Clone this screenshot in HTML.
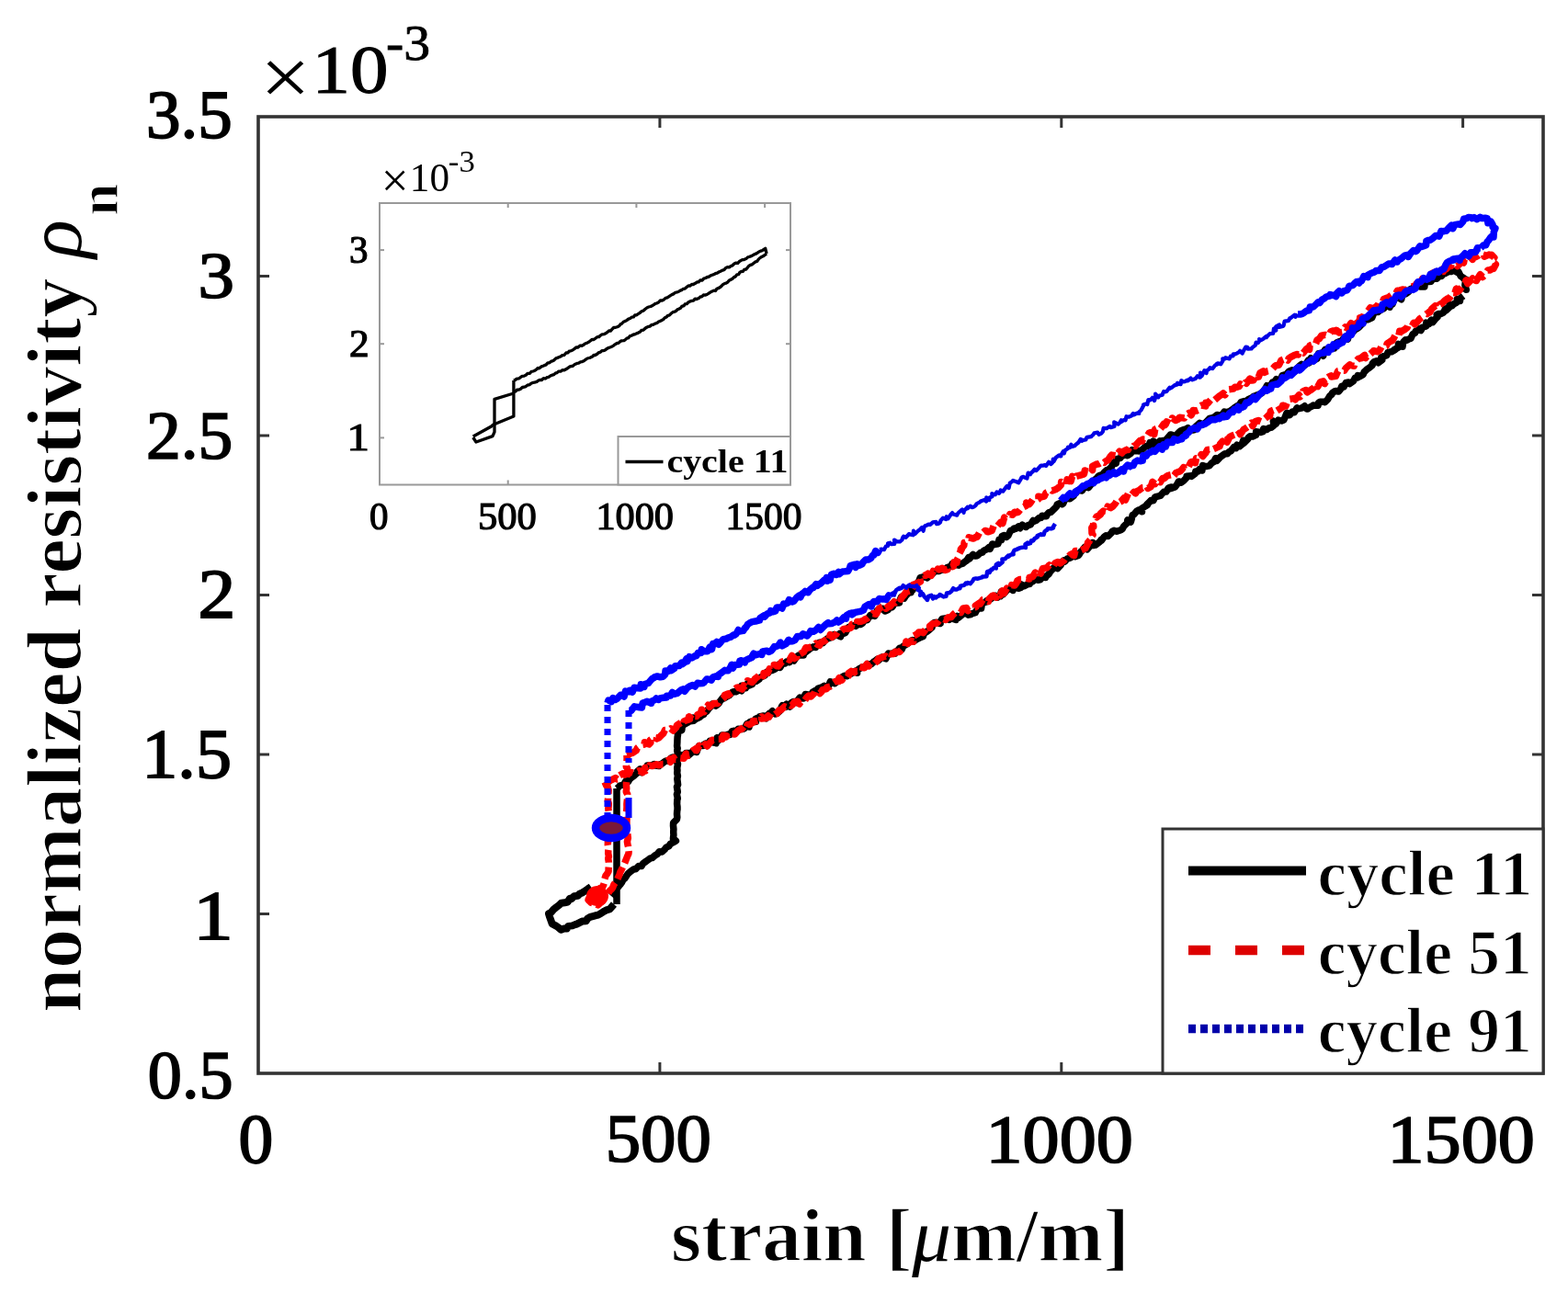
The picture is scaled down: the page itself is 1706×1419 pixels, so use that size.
<!DOCTYPE html>
<html><head><meta charset="utf-8"><title>normalized resistivity vs strain</title>
<style>html,body{margin:0;padding:0;background:#fff;}svg{display:block;}</style></head>
<body>
<svg width="1706" height="1419" viewBox="0 0 1706 1419">
<rect width="1706" height="1419" fill="#ffffff"/>
<path d="M643.0 965.0 L639.9 967.1 L637.6 968.9 L634.0 971.2 L630.7 972.6 L628.5 974.8 L624.8 975.2 L622.0 978.0 L620.0 977.8 L617.6 981.5 L614.2 982.3 L610.7 982.8 L608.4 984.9 L605.1 987.4 L602.0 989.9 L599.7 992.8 L597.0 994.3 L598.0 997.7 L598.9 1000.1 L600.7 1005.2 L603.0 1006.5 L604.7 1007.4 L607.2 1009.0 L610.4 1011.8 L613.5 1010.6 L616.7 1010.6 L618.3 1007.9 L622.6 1007.4 L625.7 1006.1 L627.4 1005.6 L631.4 1003.6 L633.4 1002.6 L637.6 1002.3 L639.2 999.7 L642.1 997.9 L646.0 996.9 L648.5 996.2 L650.9 995.6 L653.7 994.0 L656.6 992.1 L659.6 990.4 L663.3 989.4 L665.1 987.3 L668.0 984.0" fill="none" stroke="#000000" stroke-width="8" stroke-linejoin="round" />
<path d="M671.0 984.0 L671.0 858.0" fill="none" stroke="#000000" stroke-width="7.5" stroke-linejoin="round" />
<path d="M665.0 975.0 L666.9 972.8 L669.0 969.3 L670.1 967.2 L672.3 965.6 L674.7 962.7 L676.5 960.3 L677.9 957.4 L679.8 955.8 L681.6 953.1 L683.5 950.4 L686.5 948.1 L689.7 945.7 L691.5 945.8 L694.7 942.5 L697.9 942.6 L699.5 939.8 L702.1 937.9 L705.1 935.8 L707.7 933.9 L709.6 933.6 L712.4 931.1 L715.1 929.5 L717.4 926.8 L720.3 926.9 L723.1 924.5 L724.8 922.1 L727.7 920.8 L729.5 918.1 L732.3 916.9 L735.4 915.0 L732.4 912.6 L732.9 908.6 L732.7 905.1 L732.9 902.3 L732.5 898.5 L732.6 895.4 L736.4 891.6 L736.8 889.3 L736.5 885.9 L736.7 882.6 L737.0 880.9 L737.0 877.9 L736.6 874.8 L736.8 870.4 L737.3 868.8 L736.4 864.5 L737.3 861.7 L736.7 858.0 L736.4 856.2 L737.6 854.0 L737.0 849.0 L736.8 847.6 L737.4 844.3 L736.7 841.1 L737.0 838.3 L736.7 835.9 L737.5 831.3 L736.7 829.7 L736.7 826.9 L737.0 823.4 L737.2 819.4 L736.7 816.5 L737.2 814.4 L736.6 811.8 L736.9 807.5 L736.9 806.0 L737.1 802.2 L737.5 799.9 L737.0 796.0" fill="none" stroke="#000000" stroke-width="7.5" stroke-linejoin="round" />
<path d="M737.0 796.0 L738.3 795.4 L741.8 794.7 L742.3 790.0 L744.3 788.4 L748.2 786.3 L749.6 785.2 L751.0 784.8 L754.8 784.2 L754.3 780.9 L756.8 782.5 L761.0 780.6 L763.2 778.7 L765.8 777.4 L765.9 776.2 L768.8 774.1 L771.3 770.9 L772.9 769.3 L775.0 766.1 L778.8 768.1 L781.5 766.0 L782.4 765.0 L783.2 763.3 L786.4 759.4 L787.8 759.9 L790.2 758.3 L793.4 756.7 L794.1 755.9 L796.7 753.3 L798.7 752.6 L800.5 752.8 L805.5 750.2 L806.9 751.7 L807.0 746.3 L811.5 748.6 L813.2 743.8 L814.7 746.2 L818.4 744.5 L818.4 743.5 L821.1 741.5 L822.6 741.5 L826.2 738.9 L827.2 737.1 L830.5 735.7 L832.0 735.1 L834.1 731.5 L835.8 732.3 L837.8 728.6 L839.9 729.5 L843.7 727.8 L844.3 726.0 L847.5 723.0 L848.7 726.5 L851.4 721.6 L854.1 722.0 L855.8 720.1 L858.9 720.7 L860.1 716.9 L863.8 719.0 L866.2 715.2 L868.9 713.1 L869.2 712.9 L874.2 712.9 L874.4 711.4 L878.5 708.0 L879.9 707.2 L881.1 705.7 L883.3 704.8 L885.0 703.8 L887.4 704.5 L891.3 699.3 L894.1 699.1 L895.4 699.7 L897.2 697.1 L899.8 695.1 L903.4 693.9 L905.5 693.3 L906.1 693.0 L907.5 690.6 L910.8 691.1 L914.7 692.8 L914.3 689.3 L916.8 689.6 L919.7 688.7 L922.7 683.3 L923.3 682.6 L928.3 680.8 L929.4 680.5 L931.2 681.4 L933.1 679.6 L936.8 679.4 L938.6 678.0 L940.7 674.8 L943.5 674.8 L946.7 669.7 L946.6 670.5 L951.0 669.2 L951.8 670.2 L954.3 664.5 L956.0 663.0 L960.5 662.2 L962.9 665.0 L966.3 663.5 L966.9 661.4 L970.7 660.7 L971.4 659.7 L973.3 656.2 L978.5 655.9 L978.1 655.7 L980.4 649.8 L980.9 649.3 L983.7 651.1 L985.2 648.8 L988.9 644.8 L991.1 644.8 L991.4 640.4 L993.1 641.9 L995.1 636.4 L996.4 636.1 L997.6 634.8 L998.9 634.3 L1001.2 628.7 L1004.3 628.0 L1007.5 628.1 L1008.7 628.9 L1010.1 627.5 L1013.8 624.9 L1017.1 621.8 L1019.1 621.5 L1021.4 620.7 L1021.3 621.5 L1026.3 619.3 L1027.3 620.2 L1028.9 618.9 L1030.5 617.5 L1035.1 616.0 L1035.8 613.6 L1039.6 614.6 L1042.7 615.1 L1042.6 614.8 L1047.6 613.1 L1049.7 611.3 L1051.8 610.0 L1053.8 606.7 L1054.8 608.0 L1058.6 603.4 L1061.2 605.1 L1063.2 604.8 L1066.8 601.5 L1069.0 601.0 L1070.4 599.1 L1073.6 597.8 L1075.8 595.8 L1077.1 597.3 L1079.2 593.0 L1079.5 592.1 L1082.7 592.4 L1086.0 591.8 L1087.0 587.3 L1089.5 587.6 L1090.2 583.4 L1092.5 582.5 L1095.1 584.4 L1097.0 582.7 L1099.4 577.5 L1103.8 575.8 L1103.4 574.9 L1105.5 575.2 L1108.2 572.9 L1109.9 574.7 L1112.3 571.2 L1116.2 573.5 L1118.8 571.5 L1121.2 570.9 L1124.0 566.5 L1123.8 567.8 L1127.5 566.3 L1130.6 563.4 L1132.6 563.6 L1133.8 561.2 L1135.5 561.6 L1138.4 561.8 L1139.6 559.4 L1141.1 557.7 L1143.4 557.3 L1148.0 552.8 L1149.6 551.2 L1150.1 549.1 L1152.6 547.7 L1155.5 548.7 L1156.7 548.0 L1158.2 544.6 L1160.7 541.5 L1164.4 540.5 L1164.0 542.8 L1168.3 539.5 L1169.1 536.5 L1169.9 537.1 L1172.7 533.7 L1176.9 531.6 L1177.3 534.0 L1180.5 529.2 L1182.6 530.2 L1184.3 530.7 L1186.9 527.5 L1188.7 525.3 L1189.9 525.3 L1192.0 521.4 L1192.1 521.8 L1194.9 518.3 L1196.7 517.3 L1198.9 517.1 L1201.4 514.0 L1203.9 511.7 L1205.0 511.6 L1207.5 509.9 L1209.9 507.3 L1210.7 503.7 L1211.6 503.3 L1214.3 504.1 L1214.8 499.6 L1218.9 498.5 L1221.1 495.2 L1223.2 495.6 L1225.0 492.7 L1226.9 495.6 L1230.3 493.3 L1231.7 489.6 L1234.9 490.7 L1237.4 490.6 L1238.8 490.9 L1240.3 490.4 L1242.6 489.4 L1246.5 485.7 L1250.0 485.1 L1251.0 481.7 L1254.3 483.8 L1255.0 480.1 L1258.0 483.4 L1261.8 480.0 L1261.7 481.0 L1264.6 479.5 L1267.9 479.8 L1269.3 477.9 L1273.5 473.0 L1275.4 473.5 L1278.2 476.0 L1280.6 472.6 L1282.8 470.4 L1284.8 468.7 L1288.0 467.5 L1289.8 467.2 L1292.4 465.6 L1293.1 467.6 L1297.7 468.0 L1299.9 467.5 L1300.6 464.5 L1304.5 461.0 L1305.3 460.3 L1308.8 462.0 L1311.8 459.8 L1312.1 459.5 L1315.8 455.5 L1318.5 454.8 L1319.9 454.7 L1323.6 451.9 L1325.0 451.4 L1328.1 453.3 L1329.2 451.7 L1332.1 448.0 L1333.9 448.6 L1337.9 447.8 L1337.7 447.7 L1341.9 444.7 L1343.2 443.7 L1346.7 441.4 L1347.1 443.2 L1350.2 437.6 L1353.8 436.5 L1354.3 437.7 L1357.3 437.8 L1358.0 434.7 L1362.3 432.8 L1363.9 431.4 L1366.1 432.6 L1367.0 430.1 L1369.2 429.5 L1372.6 427.9 L1375.1 425.2 L1377.5 421.5 L1378.4 419.7 L1380.6 421.5 L1381.8 420.8 L1384.4 416.2 L1385.8 416.8 L1388.5 412.7 L1390.4 416.1 L1393.1 413.2 L1395.1 408.7 L1397.8 408.0 L1398.4 408.7 L1402.3 404.2 L1405.3 402.9 L1405.0 403.1 L1409.1 404.0 L1411.1 401.1 L1413.8 398.3 L1416.1 396.5 L1415.7 398.9 L1419.8 397.2 L1420.3 396.9 L1423.3 392.2 L1424.2 395.0 L1426.2 389.7 L1429.3 392.0 L1433.0 390.4 L1434.5 384.8 L1437.0 384.5 L1439.8 387.2 L1439.2 384.7 L1441.9 380.2 L1446.0 380.7 L1446.4 380.0 L1447.8 378.0 L1451.8 379.0 L1452.3 377.9 L1454.4 373.0 L1457.3 371.6 L1458.7 372.8 L1461.6 368.6 L1463.9 366.5 L1466.4 369.1 L1467.6 364.4 L1469.3 362.4 L1471.3 359.6 L1472.9 360.5 L1475.4 355.5 L1476.3 357.7 L1478.8 355.9 L1481.6 353.0 L1482.7 351.0 L1484.8 348.9 L1488.4 345.0 L1488.3 347.7 L1492.7 345.9 L1494.7 340.8 L1496.4 339.5 L1499.0 339.6 L1500.1 338.8 L1501.4 337.7 L1505.7 335.7 L1506.5 333.9 L1507.9 332.1 L1512.1 334.2 L1512.9 329.3 L1515.0 330.9 L1516.9 326.0 L1519.3 324.1 L1520.9 323.5 L1524.7 325.8 L1525.7 321.1 L1528.9 318.3 L1529.5 319.8 L1532.9 317.2 L1534.9 314.3 L1536.7 313.9 L1538.8 312.1 L1542.8 310.6 L1543.8 310.2 L1545.3 312.1 L1549.9 311.9 L1550.2 308.5 L1552.7 304.9 L1554.9 306.5 L1557.0 306.2 L1559.4 302.4 L1563.0 302.6 L1563.2 303.2 L1566.1 300.4 L1568.3 300.5 L1571.3 297.1 L1572.4 297.6 L1576.1 295.5 L1578.8 295.5 L1579.9 294.8 L1582.1 294.4 L1586.7 296.9 L1586.7 295.5 L1589.3 300.6 L1592.1 302.3 L1591.9 302.6 L1595.4 304.4 L1594.5 305.3 L1593.9 310.2 L1595.3 315.2 L1594.8 314.5 L1594.0 318.0" fill="none" stroke="#000000" stroke-width="7.5" stroke-linejoin="round" />
<path d="M1592.0 322.0 L1588.8 324.6 L1588.5 327.4 L1585.4 325.4 L1584.9 329.1 L1581.6 330.8 L1579.9 332.8 L1577.0 331.5 L1577.5 333.8 L1573.6 337.7 L1572.7 335.8 L1570.5 340.1 L1567.4 341.6 L1565.3 341.5 L1563.2 342.4 L1564.0 345.0 L1562.1 346.7 L1558.9 350.6 L1557.2 348.2 L1554.9 352.5 L1551.7 351.2 L1551.9 355.0 L1547.8 356.2 L1545.9 359.6 L1544.8 357.5 L1543.8 359.0 L1540.2 360.3 L1539.6 362.3 L1537.0 363.8 L1534.9 368.4 L1533.1 368.8 L1530.9 370.2 L1529.2 369.8 L1526.8 372.1 L1526.0 377.2 L1521.4 374.5 L1521.4 378.2 L1517.2 380.4 L1518.0 380.4 L1514.1 382.7 L1513.9 382.6 L1509.9 383.6 L1508.9 386.6 L1505.7 387.6 L1502.9 388.7 L1503.9 391.6 L1499.6 394.9 L1497.8 392.8 L1494.8 393.8 L1493.2 395.7 L1493.3 397.3 L1489.3 400.6 L1489.3 400.4 L1486.8 402.3 L1484.1 405.0 L1483.2 407.4 L1479.8 409.4 L1477.2 408.6 L1477.0 411.0 L1474.3 411.3 L1472.7 414.4 L1468.5 417.6 L1467.1 416.1 L1464.4 416.4 L1462.1 421.0 L1459.8 420.3 L1458.7 423.3 L1456.4 426.1 L1453.9 425.5 L1452.3 425.8 L1449.6 427.4 L1449.1 429.0 L1446.8 430.9 L1444.6 434.7 L1441.6 437.7 L1440.5 437.3 L1436.2 437.3 L1434.4 438.4 L1434.1 441.2 L1428.9 441.1 L1429.2 441.1 L1424.2 443.6 L1422.8 445.0 L1421.7 445.0 L1419.5 441.8 L1416.6 443.8 L1412.1 445.0 L1411.1 443.9 L1408.3 448.7 L1406.0 448.1 L1403.2 451.8 L1400.9 451.6 L1400.0 449.4 L1399.0 452.0 L1396.8 457.0 L1394.4 457.9 L1390.7 457.1 L1388.4 461.0 L1385.3 458.2 L1386.0 463.0 L1383.1 465.2 L1380.4 465.9 L1378.0 467.6 L1374.7 466.5 L1374.2 469.7 L1371.6 470.5 L1371.1 470.4 L1366.6 469.8 L1366.5 473.4 L1362.9 475.0 L1359.9 474.8 L1358.1 476.3 L1357.9 477.6 L1353.4 482.2 L1352.7 479.2 L1351.0 483.9 L1348.7 485.7 L1345.9 484.2 L1344.8 487.7 L1342.5 486.7 L1339.3 490.7 L1337.2 491.6 L1335.4 493.7 L1332.8 493.7 L1332.2 494.1 L1328.0 497.1 L1325.8 499.6 L1324.1 501.2 L1322.7 498.6 L1320.5 502.7 L1318.3 503.8 L1315.8 506.9 L1313.1 507.4 L1310.4 507.2 L1308.4 506.6 L1307.9 512.0 L1304.9 510.7 L1303.3 513.1 L1300.8 513.1 L1300.2 515.5 L1296.5 518.2 L1296.4 517.6 L1291.2 518.3 L1291.8 518.9 L1287.5 523.5 L1285.1 525.1 L1283.3 524.1 L1282.3 524.0 L1280.7 527.0 L1278.4 530.0 L1274.1 531.6 L1274.2 529.9 L1271.3 531.0 L1268.9 535.1 L1266.2 535.3 L1263.3 538.3 L1262.6 539.4 L1258.7 540.3 L1256.6 541.1 L1254.8 544.8 L1252.3 544.4 L1251.2 545.7 L1247.8 549.0 L1248.5 549.3 L1246.2 550.9 L1242.3 553.3 L1242.5 556.8 L1239.4 554.7 L1236.8 556.3 L1233.6 560.0 L1232.2 560.3 L1231.0 565.6 L1230.3 568.1 L1226.8 566.0 L1226.4 569.1 L1222.5 572.9 L1221.2 575.4 L1219.5 576.7 L1215.7 578.1 L1214.8 578.2 L1212.0 577.3 L1209.9 578.3 L1209.8 579.4 L1205.5 583.5 L1203.3 582.7 L1201.3 584.2 L1198.5 588.2 L1198.1 587.2 L1196.4 589.8 L1191.8 593.1 L1189.4 593.5 L1188.8 590.5 L1186.4 593.9 L1182.9 597.9 L1180.3 595.4 L1176.6 600.0 L1175.8 600.5 L1174.3 603.3 L1173.1 604.5 L1169.7 605.8 L1166.9 603.1 L1165.9 604.0 L1164.8 607.0 L1161.0 608.2 L1158.6 610.9 L1158.0 609.6 L1154.5 612.2 L1154.3 614.6 L1150.6 618.6 L1148.4 617.1 L1146.3 617.8 L1145.2 619.4 L1142.5 622.3 L1141.2 624.6 L1138.2 627.1 L1137.6 628.5 L1134.8 627.4 L1131.6 630.9 L1129.5 631.2 L1126.8 630.2 L1123.2 633.0 L1121.6 632.7 L1120.5 635.4 L1118.8 635.5 L1114.1 637.8 L1111.1 636.0 L1111.4 639.2 L1107.9 640.3 L1104.2 636.9 L1102.1 642.5 L1098.9 640.3 L1097.9 640.6 L1096.6 641.0 L1091.7 646.6 L1089.3 643.9 L1088.4 648.7 L1086.0 648.4 L1085.2 650.0 L1083.2 648.2 L1080.1 649.6 L1078.9 651.0 L1074.3 654.5 L1073.8 653.6 L1071.7 655.5 L1068.5 656.5 L1067.6 662.0 L1065.5 660.7 L1061.7 665.3 L1061.3 666.7 L1057.9 667.6 L1056.6 668.5 L1053.6 669.2 L1051.1 667.3 L1048.5 666.8 L1046.7 669.1 L1042.7 672.2 L1041.3 670.4 L1040.1 674.4 L1036.0 673.1 L1032.2 672.9 L1032.9 674.4 L1030.4 672.6 L1024.9 673.5 L1022.6 677.9 L1023.0 678.6 L1019.3 677.4 L1016.6 677.6 L1014.7 679.0 L1014.0 682.7 L1010.6 685.8 L1008.4 687.4 L1007.7 687.7 L1005.3 689.2 L1004.3 692.6 L1001.2 693.9 L998.2 695.2 L998.2 695.2 L993.8 698.0 L992.4 696.6 L991.9 696.9 L988.7 699.1 L987.2 700.5 L982.5 703.4 L981.4 706.3 L978.6 705.4 L976.4 708.3 L973.6 709.4 L973.5 711.2 L969.4 711.2 L966.7 712.3 L966.5 711.0 L963.8 716.9 L960.4 714.9 L959.4 715.1 L955.9 718.6 L954.4 717.4 L951.1 720.2 L950.9 719.8 L948.1 722.7 L944.5 723.2 L944.0 722.7 L940.8 725.7 L937.2 726.5 L935.1 727.6 L932.4 729.5 L932.6 732.3 L930.7 730.1 L928.0 731.8 L925.5 733.5 L923.3 734.2 L921.7 735.7 L918.9 735.3 L916.5 736.6 L913.2 738.7 L911.7 740.8 L908.3 743.8 L905.3 742.6 L903.3 741.8 L901.3 747.3 L898.5 747.3 L897.9 749.0 L896.5 746.5 L894.5 747.7 L889.7 749.3 L889.3 752.2 L887.0 751.5 L884.1 753.2 L883.3 755.6 L880.2 756.2 L876.2 755.5 L874.3 759.9 L871.9 759.8 L870.1 759.1 L867.9 762.1 L867.4 764.7 L863.6 763.4 L860.8 764.8 L859.4 769.2 L855.7 766.2 L854.5 769.3 L851.2 767.7 L850.5 768.8 L849.0 773.3 L845.7 776.2 L843.5 777.0 L840.4 773.7 L838.7 777.2 L837.2 776.1 L835.1 778.1 L833.6 781.8 L830.8 778.9 L826.3 780.0 L825.2 781.0 L822.0 782.2 L822.4 785.4 L817.8 784.9 L815.6 785.7 L815.0 791.0 L812.8 787.7 L809.8 792.8 L806.9 793.5 L803.4 793.3 L803.5 793.9 L799.2 797.8 L799.1 795.3 L796.6 795.7 L794.0 799.6 L791.7 799.3 L790.1 800.2 L785.5 800.0 L783.4 804.3 L780.9 806.3 L780.2 802.8 L779.1 808.7 L774.5 807.6 L772.2 806.5 L769.4 811.5 L767.6 809.1 L765.1 810.6 L765.2 811.4 L760.5 811.7 L759.8 813.1 L757.9 818.5 L753.9 817.2 L753.2 818.4 L749.4 821.8 L749.2 819.4 L746.4 819.5 L744.0 822.2 L742.0 821.4 L737.1 824.2 L735.5 826.9 L731.9 824.0 L729.7 825.1 L729.4 828.1 L724.6 827.9 L722.3 829.4 L719.9 831.2 L717.1 832.3 L716.8 833.5 L711.7 832.9 L711.5 831.6 L709.4 832.6 L704.3 832.9 L704.1 833.9 L700.4 837.6 L697.9 840.6 L696.2 837.0 L693.5 839.3 L693.0 841.2 L690.2 843.9 L687.4 845.9 L684.8 848.0 L683.8 850.4 L682.4 848.2 L680.3 850.9 L678.7 853.8 L674.2 855.0 L673.2 856.5 L671.0 858.0" fill="none" stroke="#000000" stroke-width="7.5" stroke-linejoin="round" />
<path d="M682.0 822.0 L683.3 821.7 L687.1 819.2 L688.1 819.5 L692.2 816.7 L693.4 814.0 L694.1 813.4 L698.1 810.5 L701.0 810.0 L701.4 807.7 L706.0 810.0 L707.9 808.1 L707.4 805.3 L711.1 802.8 L714.7 802.8 L714.4 803.9 L716.6 803.1 L719.8 799.8 L721.7 798.2 L723.4 794.5 L727.7 794.3 L729.7 792.8 L732.5 795.0 L734.0 793.1 L735.7 791.7 L736.5 789.2 L740.9 786.5 L743.5 788.9 L744.1 784.9 L746.5 783.8 L750.4 782.6 L749.6 779.8 L754.0 783.3 L755.5 779.4 L757.9 779.5 L759.1 777.6 L762.4 776.1 L763.4 772.2 L766.2 774.6 L768.4 771.3 L770.5 767.2 L772.0 769.3 L776.4 765.5 L778.3 765.5 L781.2 765.4 L781.9 764.2 L785.8 760.9 L787.8 759.1 L788.4 756.5 L792.1 754.8 L791.8 756.8 L796.2 753.8 L798.5 750.3 L798.9 750.2 L801.6 748.3 L802.7 747.9 L807.5 750.0 L809.2 746.0 L809.8 747.2 L812.9 744.7 L813.5 740.8 L818.2 742.5 L820.5 740.2 L821.3 738.8 L824.8 736.1 L826.0 734.6 L828.9 731.9 L830.8 735.5 L831.0 732.4 L835.1 732.4 L837.1 728.0 L838.7 730.4 L842.5 724.9 L842.3 723.4 L844.3 724.1 L846.9 725.0 L850.8 719.9 L852.7 719.8 L854.8 718.0 L856.0 716.6 L859.0 718.1 L861.7 713.4 L864.5 716.5 L867.0 714.8 L866.8 711.9 L869.3 712.3 L871.9 710.8 L874.4 709.5 L876.8 704.8 L879.3 705.0 L883.2 703.7 L884.2 703.8 L887.8 700.2 L889.0 701.2 L891.7 702.3 L892.6 699.7 L895.6 697.8 L896.4 697.9 L901.5 694.2 L901.7 696.4 L903.3 690.5 L905.4 693.3 L909.8 690.2 L911.6 686.9 L914.0 688.0 L915.8 686.5 L917.7 684.6 L918.9 684.3 L921.8 684.3 L925.8 683.1 L927.0 679.2 L929.1 679.1 L932.1 680.3 L932.7 676.4 L936.3 676.3 L939.8 675.2 L941.3 673.8 L943.7 672.9 L946.0 670.7 L946.9 670.5 L949.6 667.6 L953.5 668.2 L956.4 662.1 L956.8 662.5 L959.5 660.4 L962.4 658.9 L964.1 662.2 L967.9 658.5 L968.4 659.9 L972.7 654.8 L974.0 655.9 L977.6 652.8 L980.3 651.2 L980.1 652.1 L981.7 649.4 L983.8 647.1 L985.9 644.1 L989.9 642.7 L990.3 641.6 L991.7 637.4 L994.0 636.1 L995.3 637.8 L996.8 635.2 L1001.5 632.8 L1000.6 629.9 L1002.6 628.6 L1007.0 625.7 L1007.1 626.4 L1009.7 624.2 L1013.2 626.3 L1015.3 621.4 L1018.9 624.1 L1020.4 619.1 L1021.7 620.0 L1025.2 618.2 L1028.3 620.5 L1031.0 619.7 L1030.5 617.2 L1033.0 617.9 L1037.4 616.3 L1038.0 611.7 L1041.0 612.2 L1041.4 609.2 L1042.9 606.2 L1042.3 603.9 L1043.4 603.0 L1046.2 597.8 L1045.3 597.7 L1048.8 593.6 L1049.1 590.5 L1050.0 590.4 L1053.6 588.8 L1054.2 584.8 L1058.9 586.0 L1059.6 585.7 L1062.9 583.7 L1063.2 584.2 L1065.9 579.0 L1068.6 580.5 L1071.8 577.5 L1074.4 578.1 L1074.9 578.8 L1079.2 577.5 L1081.1 572.3 L1083.6 574.2 L1085.1 572.6 L1088.7 568.3 L1090.9 569.5 L1092.7 563.1 L1093.5 564.6 L1096.5 564.0 L1098.8 559.6 L1101.9 560.2 L1103.9 557.2 L1106.4 557.7 L1107.9 557.3 L1110.4 554.0 L1110.1 552.9 L1112.6 552.3 L1116.8 550.1 L1116.8 547.0 L1119.9 548.6 L1120.8 547.7 L1123.6 543.5 L1128.0 544.3 L1130.1 542.9 L1129.9 540.2 L1133.0 540.9 L1136.2 540.2 L1138.0 536.3 L1139.5 535.6 L1141.9 533.7 L1144.2 533.4 L1144.8 534.0 L1148.7 532.5 L1151.4 530.8 L1154.4 527.7 L1154.7 524.4 L1157.8 526.2 L1159.9 527.1 L1161.1 521.8 L1165.1 523.6 L1166.6 518.4 L1168.6 521.2 L1171.3 518.0 L1173.3 517.7 L1176.3 516.8 L1179.5 515.8 L1180.3 512.0 L1183.9 513.5 L1186.6 509.2 L1188.7 511.6 L1188.6 507.3 L1192.6 505.3 L1195.6 504.7 L1197.4 503.6 L1198.3 502.0 L1201.4 503.4 L1202.9 502.0 L1205.5 500.6 L1207.9 497.0 L1209.5 495.1 L1213.6 495.7 L1214.1 496.9 L1218.0 491.2 L1220.6 493.0 L1222.0 491.3 L1225.9 489.4 L1227.2 489.6 L1228.7 486.9 L1232.2 487.1 L1233.6 485.3 L1235.1 485.5 L1236.7 483.3 L1240.2 479.6 L1242.7 480.0 L1243.3 478.1 L1245.7 478.2 L1248.4 474.3 L1250.2 471.3 L1252.3 470.4 L1255.8 472.5 L1256.7 467.2 L1259.8 465.8 L1261.6 467.7 L1263.1 465.9 L1266.3 461.2 L1267.6 462.4 L1269.3 458.9 L1272.9 460.6 L1274.9 458.3 L1275.5 455.0 L1279.0 457.5 L1281.8 456.3 L1283.3 454.2 L1288.6 455.0 L1290.2 451.3 L1293.6 449.4 L1296.1 451.7 L1297.6 449.0 L1298.2 446.6 L1302.0 446.9 L1303.5 446.3 L1304.8 442.2 L1307.2 441.0 L1311.7 441.9 L1312.0 438.2 L1314.2 438.6 L1317.5 435.0 L1319.6 436.9 L1322.1 434.8 L1325.0 432.4 L1327.1 430.6 L1328.3 430.0 L1330.9 428.0 L1332.9 429.8 L1335.9 424.8 L1337.0 423.7 L1341.9 423.1 L1343.6 421.3 L1345.9 421.2 L1348.4 420.4 L1349.6 417.9 L1352.5 419.5 L1355.0 416.4 L1356.1 417.2 L1359.9 412.1 L1361.6 414.1 L1363.7 413.8 L1366.6 408.8 L1369.1 408.0 L1369.4 410.1 L1371.0 405.8 L1374.6 403.9 L1375.7 405.3 L1379.0 403.8 L1381.7 403.2 L1384.2 401.7 L1386.8 398.8 L1388.2 397.7 L1391.3 397.3 L1392.0 396.1 L1393.8 392.2 L1396.4 391.1 L1397.5 389.6 L1401.2 392.0 L1402.2 390.1 L1404.7 388.3 L1407.6 386.8 L1411.2 385.4 L1412.5 385.9 L1413.9 382.7 L1418.0 384.1 L1421.2 379.9 L1422.4 379.0 L1424.7 380.3 L1425.0 376.1 L1429.6 374.6 L1430.8 375.5 L1431.8 373.7 L1433.0 369.9 L1435.6 368.4 L1437.8 365.2 L1441.8 364.4 L1443.1 364.8 L1446.1 364.8 L1447.9 360.8 L1450.8 359.9 L1453.8 360.5 L1454.2 359.5 L1457.2 362.0 L1461.1 361.3 L1462.8 357.1 L1463.6 355.9 L1466.1 357.3 L1469.9 351.6 L1471.9 354.4 L1472.5 351.7 L1475.6 347.5 L1477.2 350.1 L1480.1 348.2 L1479.7 345.6 L1483.1 345.1 L1484.2 341.7 L1486.1 341.4 L1490.1 335.9 L1490.9 334.9 L1494.0 335.9 L1494.3 336.0 L1499.3 331.8 L1500.1 329.8 L1502.3 328.5 L1504.0 329.1 L1505.5 325.6 L1509.5 324.0 L1509.5 326.4 L1512.0 322.6 L1514.7 320.7 L1517.0 320.9 L1518.5 319.7 L1520.5 316.2 L1523.2 315.9 L1525.9 315.0 L1529.6 315.7 L1530.7 315.1 L1533.6 311.5 L1535.6 312.6 L1537.5 311.5 L1540.1 311.2 L1541.1 308.7 L1545.6 306.8 L1547.6 303.3 L1549.2 303.0 L1551.5 302.7 L1553.0 300.6 L1554.4 302.6 L1557.8 300.2 L1558.4 297.3 L1563.2 295.6 L1564.1 297.0 L1566.4 295.3 L1570.2 295.5 L1570.2 292.6 L1573.1 293.0 L1576.3 289.8 L1578.7 289.6 L1578.9 287.9 L1582.4 286.4 L1585.7 289.6 L1588.8 286.7 L1591.0 285.0 L1592.5 286.0 L1593.2 282.3 L1596.5 281.2 L1599.0 278.7 L1602.2 282.4 L1603.1 277.4 L1605.8 279.5 L1607.8 278.4 L1610.0 276.5 L1614.3 277.3 L1614.9 279.2 L1619.9 277.1 L1622.5 278.1 L1623.0 277.5 L1625.8 280.3 L1624.1 281.3 L1625.3 285.9 L1627.4 287.7 L1624.9 292.4 L1622.9 292.9 L1620.7 294.1 L1618.8 294.0 L1617.5 296.0 L1615.1 299.8 L1613.2 301.5 L1610.4 298.8 L1608.7 301.5 L1606.3 305.5 L1603.0 304.0" fill="none" stroke="#ff0000" stroke-width="7.5" stroke-dasharray="16 6" stroke-linejoin="round" />
<path d="M1603.0 304.0 L1602.1 303.1 L1596.8 308.6 L1595.0 305.0 L1594.4 307.8 L1593.1 308.8 L1591.3 310.9 L1588.1 315.7 L1586.4 317.2 L1584.4 314.3 L1582.9 318.7 L1579.1 318.3 L1578.7 321.9 L1576.9 324.5 L1575.0 325.0 L1572.1 326.9 L1568.7 330.3 L1566.8 331.0 L1566.8 331.9 L1562.2 334.4 L1561.8 332.7 L1557.8 336.1 L1555.7 339.8 L1555.2 339.3 L1552.8 341.6 L1552.3 341.4 L1548.6 344.4 L1546.3 346.0 L1544.9 346.8 L1543.2 348.8 L1539.3 352.8 L1538.0 351.4 L1536.1 355.5 L1535.7 354.9 L1531.9 354.3 L1531.3 356.2 L1528.1 358.7 L1525.4 360.3 L1522.8 360.2 L1521.8 365.7 L1520.1 364.1 L1518.1 364.9 L1515.1 370.5 L1514.6 370.1 L1512.3 371.9 L1509.2 373.9 L1508.5 376.3 L1504.7 377.5 L1503.1 376.9 L1501.3 380.7 L1498.6 382.7 L1494.5 381.7 L1494.3 382.2 L1490.6 385.4 L1489.3 384.6 L1485.8 389.5 L1484.6 386.5 L1482.0 388.5 L1481.8 389.5 L1477.8 390.4 L1476.2 392.3 L1473.6 396.4 L1473.2 398.3 L1468.3 397.2 L1468.6 396.8 L1464.4 400.5 L1462.8 403.2 L1461.6 403.1 L1458.0 403.2 L1455.8 403.7 L1454.9 405.5 L1453.4 409.4 L1448.6 410.0 L1448.1 408.9 L1445.5 410.1 L1444.1 411.2 L1441.4 417.5 L1439.8 414.9 L1436.6 415.6 L1433.8 420.6 L1433.0 417.4 L1429.4 422.0 L1426.5 424.1 L1426.5 424.0 L1422.6 426.8 L1420.8 424.6 L1417.8 425.7 L1417.3 428.8 L1414.6 431.7 L1413.3 429.8 L1409.4 434.7 L1408.3 433.5 L1405.8 433.9 L1402.1 434.5 L1400.7 436.8 L1398.9 442.0 L1395.6 441.2 L1395.7 442.8 L1392.5 445.0 L1388.7 447.3 L1388.7 447.9 L1386.9 445.6 L1382.4 447.4 L1381.6 452.7 L1380.7 451.3 L1377.7 454.4 L1374.6 456.9 L1374.3 457.0 L1372.1 458.8 L1369.1 457.6 L1365.8 458.6 L1362.9 463.5 L1361.5 460.2 L1359.4 461.9 L1357.7 464.4 L1354.7 466.5 L1353.3 467.2 L1352.4 468.3 L1349.4 472.6 L1348.6 471.3 L1343.6 475.6 L1343.0 473.1 L1339.6 474.5 L1338.0 475.3 L1335.1 481.1 L1335.4 477.8 L1332.2 482.7 L1330.1 480.2 L1327.5 483.2 L1327.1 485.5 L1323.6 487.1 L1320.1 488.7 L1320.4 489.9 L1316.8 489.3 L1313.6 489.5 L1311.9 492.8 L1311.7 492.9 L1308.6 496.5 L1306.9 494.7 L1305.6 499.1 L1301.5 498.7 L1300.5 503.7 L1297.3 502.4 L1295.8 502.6 L1293.1 507.9 L1291.4 508.8 L1288.3 510.4 L1287.8 508.5 L1284.8 512.3 L1282.8 513.3 L1279.5 514.5 L1277.7 517.1 L1275.6 519.5 L1273.9 516.7 L1271.0 517.3 L1269.6 518.0 L1266.9 520.4 L1265.0 520.6 L1262.4 524.7 L1258.6 522.8 L1256.7 526.6 L1253.9 524.4 L1252.1 529.7 L1248.9 531.4 L1247.6 528.5 L1244.0 530.7 L1242.8 530.8 L1239.2 533.6 L1237.3 534.4 L1235.6 536.8 L1233.6 535.5 L1230.0 539.9 L1227.4 537.3 L1225.3 542.2 L1224.6 544.0 L1222.7 542.1 L1219.9 545.5 L1217.2 547.1 L1215.5 544.4 L1213.2 548.3 L1210.4 551.4 L1210.7 550.6 L1208.4 552.7 L1205.1 551.2 L1204.2 557.0 L1200.5 556.1 L1197.2 559.1 L1197.4 559.8 L1193.5 562.8 L1192.9 562.3 L1190.8 567.2 L1189.5 570.6 L1189.8 573.1 L1189.7 572.1 L1187.8 574.3 L1188.0 580.1 L1189.1 581.9 L1187.0 584.5 L1187.8 585.4 L1185.2 588.4 L1185.1 589.4 L1183.6 590.2 L1183.1 592.8 L1181.0 596.6 L1176.1 598.9 L1176.5 598.4 L1174.7 599.6 L1169.9 599.4 L1168.7 604.5 L1168.2 602.1 L1164.6 603.5 L1162.2 606.2 L1160.4 606.3 L1158.9 607.9 L1157.3 610.3 L1153.6 612.9 L1151.0 611.4 L1148.0 612.7 L1146.0 616.1 L1144.1 617.1 L1141.6 614.9 L1139.3 617.7 L1138.9 617.9 L1134.4 618.8 L1132.3 624.1 L1132.1 621.4 L1127.0 623.9 L1126.4 623.1 L1123.6 627.6 L1120.0 628.5 L1119.8 630.0 L1116.9 629.4 L1114.7 628.8 L1112.3 630.5 L1109.4 630.6 L1106.8 632.1 L1105.9 634.4 L1103.8 637.1 L1100.7 636.6 L1099.7 640.8 L1097.8 641.3 L1095.4 640.2 L1092.4 645.6 L1090.3 643.0 L1088.1 647.9 L1084.7 645.2 L1083.7 650.2 L1081.0 648.0 L1079.8 648.3 L1076.0 652.0 L1075.4 654.4 L1071.5 652.4 L1069.2 652.7 L1066.6 657.1 L1066.5 655.6 L1061.3 659.1 L1061.8 660.5 L1057.7 661.3 L1056.4 662.3 L1053.1 664.6 L1051.6 661.6 L1048.0 661.9 L1045.4 666.6 L1043.3 666.1 L1041.8 664.9 L1038.0 667.9 L1036.0 670.0 L1035.0 671.6 L1031.3 672.0 L1028.9 674.5 L1026.6 673.5 L1023.6 673.6 L1022.3 674.3 L1020.3 677.2 L1018.4 678.6 L1015.2 678.4 L1011.5 681.4 L1011.8 683.3 L1009.8 681.2 L1007.6 684.0 L1004.7 688.6 L1002.7 688.0 L999.6 688.1 L998.1 689.8 L997.1 690.4 L993.7 692.1 L993.7 698.3 L991.8 697.4 L987.8 700.3 L985.8 698.2 L985.0 703.8 L982.4 705.3 L980.5 707.4 L979.7 708.4 L978.5 709.6 L973.8 709.2 L972.6 711.4 L969.3 711.7 L967.2 710.8 L965.5 715.2 L963.6 713.9 L960.3 715.1 L958.5 715.7 L956.0 716.6 L953.7 720.1 L952.4 720.9 L951.1 722.2 L946.3 722.0 L945.3 724.9 L943.1 722.6 L940.6 726.7 L939.3 726.7 L935.3 725.7 L933.9 730.5 L930.4 730.4 L929.6 731.7 L926.2 730.4 L923.3 732.6 L923.8 734.3 L921.8 737.6 L918.3 736.7 L916.0 740.0 L913.0 737.8 L912.6 741.5 L908.7 741.6 L905.6 743.7 L905.6 744.7 L903.1 747.2 L899.7 747.9 L899.5 749.6 L894.8 750.6 L894.0 752.5 L892.0 754.5 L890.6 752.1 L886.8 752.5 L886.2 754.1 L882.2 758.0 L880.0 757.0 L878.0 758.6 L875.7 762.1 L872.8 761.7 L871.5 763.2 L869.8 766.0 L868.0 763.3 L864.2 764.0 L862.6 766.5 L860.7 767.9 L858.3 766.6 L855.4 769.5 L853.8 768.9 L849.2 773.0 L847.6 772.7 L845.6 776.5 L844.0 776.7 L842.4 777.9 L838.8 775.9 L836.8 780.1 L835.7 779.0 L833.5 781.6 L828.5 782.0 L828.6 780.0 L825.0 784.2 L823.1 784.7 L819.6 784.4 L819.7 785.9 L816.2 788.2 L813.4 788.4 L811.8 791.8 L810.6 789.3 L807.2 793.4 L806.2 793.3 L803.1 795.0 L800.9 797.4 L799.7 798.9 L794.7 798.6 L793.3 797.4 L790.1 801.8 L790.3 800.8 L786.8 800.2 L785.9 804.2 L781.2 804.3 L781.5 803.8 L777.3 805.4 L775.0 805.3 L773.5 807.0 L771.3 809.3 L769.5 811.9 L767.2 810.0 L764.7 814.3 L760.9 811.4 L757.9 816.5 L758.3 814.0 L753.8 816.9 L750.9 819.2 L751.1 821.4 L746.6 822.9 L746.2 820.1 L744.1 825.2 L741.7 825.1 L739.0 824.8 L734.0 826.4 L733.0 824.5 L729.4 829.2 L729.3 825.7 L724.0 829.9 L722.3 831.6 L720.4 831.6 L716.6 832.8 L714.6 831.8 L713.0 832.1 L709.7 833.6 L706.6 832.9 L704.3 837.3 L702.4 838.8 L701.7 835.4 L699.1 840.5 L695.3 838.7 L693.5 839.6 L689.8 841.6 L687.1 840.6 L684.0 841.1 L684.0 841.0 L679.5 843.1 L677.4 841.9 L674.1 843.8 L673.9 847.6 L671.5 848.0 L669.6 846.5 L666.1 848.3 L664.4 849.1 L661.2 851.6 L658.0 851.0" fill="none" stroke="#ff0000" stroke-width="7.5" stroke-dasharray="16 6" stroke-linejoin="round" />
<path d="M658.0 851.0 L659.9 855.1 L661.2 856.0 L662.1 859.8 L662.0 862.1 L661.6 865.9 L661.6 868.9 L661.3 871.0 L662.3 874.8 L662.0 878.6 L661.8 879.9 L662.4 884.2 L662.2 887.3 L662.7 889.7 L662.4 892.7 L662.1 896.4 L661.7 898.0 L662.0 902.5 L662.1 904.9 L662.2 907.2 L661.5 910.6 L662.5 913.3 L661.4 916.0 L661.3 919.5 L662.1 923.8 L661.8 925.7 L661.7 928.5 L662.4 932.1 L661.7 934.1 L662.4 938.5 L662.5 940.4 L662.1 945.0 L662.1 948.1 L660.4 951.1 L659.0 952.8 L657.8 956.7 L657.6 960.1 L656.6 963.1 L655.1 966.2 L652.9 966.4 L650.7 968.2 L647.1 969.2 L645.0 971.3 L644.0 975.7 L641.3 976.4 L640.0 979.2 L643.4 982.4 L646.3 983.1 L650.6 984.9 L652.3 983.4 L655.5 980.9 L657.8 977.3 L660.3 975.8 L661.9 971.9 L663.0 969.8 L665.4 967.6 L666.7 965.8 L667.8 962.8 L669.8 960.1 L671.8 956.7 L673.2 953.5 L673.9 951.9 L674.7 949.2 L676.3 946.2 L678.0 942.4 L678.7 941.6 L679.7 939.1 L681.0 935.9 L682.3 932.6 L683.9 929.0 L684.1 927.0 L683.9 924.1 L683.5 921.1 L682.9 919.0 L682.4 915.9 L683.3 912.0 L683.0 909.4 L682.6 905.5 L681.9 902.6 L681.7 901.1 L681.8 896.7 L681.9 894.8 L682.0 891.1 L681.6 887.5 L681.4 884.3 L681.7 882.8 L682.0 878.1 L681.9 875.1 L682.1 872.9 L682.5 869.4 L682.5 866.4 L682.7 864.3 L681.3 861.7 L681.7 857.7 L681.5 855.8 L681.4 852.6 L681.8 849.4 L681.7 845.0 L682.6 843.4 L681.5 841.1 L682.6 836.2 L681.3 834.3 L681.5 831.6 L682.0 828.5 L682.1 825.6 L682.0 822.0" fill="none" stroke="#ff0000" stroke-width="7.5" stroke-dasharray="14 5" stroke-linejoin="round" />
<ellipse cx="650" cy="975" rx="12" ry="11" fill="#ff0000"/>
<path d="M661.0 891.0 L661.0 765.0" fill="none" stroke="#0000ff" stroke-width="7" stroke-dasharray="7 6" stroke-linejoin="round" />
<path d="M661.0 765.0 L661.9 762.0 L665.3 763.5 L666.8 759.6 L669.4 761.5 L671.5 760.3 L675.2 756.2 L677.2 756.5 L679.1 758.0 L680.5 752.1 L685.2 752.8 L685.4 751.2 L688.1 753.1 L690.0 748.3 L693.4 748.8 L696.7 749.0 L697.3 744.8 L701.0 747.3 L700.9 744.9 L705.5 743.3 L705.9 742.7 L709.6 738.6 L711.6 737.5 L712.1 736.8 L715.1 735.9 L718.3 736.8 L721.4 736.2 L723.7 734.1 L724.0 729.9 L727.1 730.5 L729.5 727.0 L730.3 729.7 L733.7 727.4 L734.5 724.7 L739.0 724.6 L741.5 721.1 L742.2 722.7 L744.3 721.4 L746.9 716.9 L747.8 719.7 L750.0 714.7 L752.9 715.9 L756.6 713.5 L757.8 713.7 L759.4 710.4 L762.6 710.5 L763.3 706.8 L765.9 708.6 L769.8 708.7 L772.3 704.1 L774.6 706.4 L775.7 700.6 L778.1 700.7 L779.8 698.4 L782.0 701.2 L784.1 698.9 L786.8 695.7 L790.9 695.0 L791.3 694.3 L795.0 693.2 L797.7 691.1 L799.0 691.2 L801.0 689.7 L803.3 685.5 L804.5 687.1 L808.6 686.4 L810.6 683.2 L811.3 683.1 L813.4 679.6 L815.7 677.9 L818.4 676.6 L821.9 676.0 L822.8 675.9 L826.5 674.9 L826.8 672.7 L831.5 669.7 L831.8 671.2 L834.6 668.0 L838.1 666.7 L838.6 664.6 L841.3 665.7 L843.7 664.9 L845.1 661.1 L849.0 661.0 L850.9 662.0 L852.5 657.1 L854.1 657.4 L857.1 656.1 L858.6 652.6 L861.8 654.9 L863.7 654.2 L866.6 650.4 L869.3 648.2 L870.9 649.8 L872.9 645.9 L873.7 645.7 L876.1 643.4 L879.2 644.7 L881.7 641.3 L884.4 639.0 L885.2 639.4 L887.8 635.8 L889.5 637.3 L891.1 635.4 L892.7 635.2 L896.8 631.1 L900.0 632.2 L899.6 628.5 L903.2 631.0 L904.5 625.3 L907.3 624.2 L909.8 625.5 L912.2 622.5 L913.3 624.6 L916.8 621.9 L919.2 621.8 L922.8 621.4 L924.6 617.9 L925.2 615.6 L929.5 614.4 L931.0 617.4 L932.6 613.8 L935.2 615.3 L938.2 613.7 L938.7 612.1 L942.0 608.9 L945.2 608.9 L947.6 607.3 L949.7 604.2 L950.8 604.2 L952.6 599.5 L955.1 601.4 L957.0 598.0" fill="none" stroke="#0000ff" stroke-width="7.5" stroke-linejoin="round" />
<path d="M957.0 598.0 L959.0 597.5 L961.9 598.2 L963.9 594.5 L966.1 593.9 L966.0 591.3 L968.5 590.7 L969.7 592.2 L973.2 592.0 L973.0 587.5 L975.4 589.1 L979.1 589.5 L981.4 587.5 L982.2 585.0 L983.1 583.7 L985.6 584.8 L987.5 582.8 L988.9 581.1 L991.9 582.0 L993.5 582.3 L993.9 577.7 L995.7 580.9 L999.1 577.4 L1000.9 576.2 L1003.0 574.0 L1004.6 577.7 L1005.5 574.1 L1006.4 572.2 L1008.7 571.4 L1010.1 570.6 L1012.1 570.8 L1014.9 568.4 L1018.5 567.9 L1019.1 570.1 L1021.7 569.6 L1023.1 568.2 L1023.3 566.7 L1026.0 563.7 L1029.3 565.0 L1029.8 562.2 L1031.5 564.3 L1034.4 560.0 L1036.1 558.1 L1037.1 559.5 L1041.2 560.6 L1041.8 559.2 L1042.7 558.0 L1046.9 554.4 L1048.6 557.8 L1048.7 556.1 L1052.6 551.8 L1052.8 553.3 L1055.7 550.7 L1057.5 552.1 L1059.7 551.5 L1061.6 549.9 L1062.5 548.3 L1063.9 547.5 L1066.1 546.3 L1066.9 545.5 L1071.2 543.9 L1073.1 545.6 L1073.2 541.4 L1076.3 544.1 L1076.3 541.6 L1079.5 540.3 L1079.3 537.2 L1082.9 538.3 L1084.5 535.4 L1087.0 536.9 L1087.5 536.2 L1088.7 533.5 L1091.2 534.7 L1094.3 530.4 L1095.5 529.1 L1097.6 531.1 L1098.8 525.6 L1099.4 525.3 L1101.8 523.6 L1102.2 522.9 L1106.5 524.5 L1108.3 525.3 L1109.1 523.8 L1110.5 521.6 L1111.4 519.7 L1113.0 518.8 L1117.4 520.6 L1118.6 514.6 L1121.1 516.2 L1121.9 514.5 L1124.0 513.0 L1123.7 512.8 L1125.7 510.6 L1127.5 512.1 L1130.8 508.5 L1132.6 506.5 L1135.2 506.6 L1135.6 506.3 L1138.4 505.7 L1138.1 506.9 L1141.1 502.8 L1143.3 505.1 L1145.2 503.5 L1145.8 499.6 L1146.6 502.1 L1148.8 498.0 L1152.2 495.4 L1154.3 496.5 L1153.5 496.5 L1156.7 491.3 L1157.8 493.4 L1158.8 490.1 L1162.3 487.8 L1162.0 486.5 L1164.4 486.9 L1165.4 483.7 L1166.5 485.9 L1169.6 484.9 L1169.8 484.4 L1173.4 481.5 L1175.7 478.0 L1176.9 478.4 L1176.9 479.8 L1178.8 478.8 L1181.4 478.5 L1182.5 475.8 L1187.2 475.2 L1188.0 474.2 L1189.7 472.7 L1190.5 471.3 L1194.2 470.6 L1195.6 472.9 L1198.2 471.6 L1199.9 469.6 L1200.6 465.9 L1201.0 466.1 L1204.1 466.2 L1204.5 465.8 L1207.4 463.9 L1208.4 465.1 L1212.5 464.0 L1212.2 459.4 L1216.7 461.6 L1218.5 459.6 L1219.9 457.3 L1219.5 459.3 L1223.2 456.8 L1224.6 457.3 L1225.5 453.2 L1228.0 453.7 L1231.4 452.4 L1231.7 451.3 L1232.9 449.9 L1233.8 451.4 L1237.0 449.7 L1239.3 450.0 L1239.4 448.3 L1241.4 446.5 L1241.7 446.0 L1244.6 440.5 L1244.0 440.5 L1247.6 439.1 L1248.3 440.0 L1249.4 435.0 L1251.5 435.3 L1253.8 432.8 L1256.0 436.1 L1257.2 432.4 L1257.1 428.6 L1260.3 432.3 L1260.9 430.7 L1264.7 429.7 L1265.1 428.1 L1266.2 426.0 L1267.6 426.5 L1269.5 425.8 L1272.7 421.6 L1272.5 422.9 L1275.0 421.6 L1278.4 418.9 L1277.9 419.4 L1281.4 418.3 L1281.0 416.8 L1284.6 418.2 L1285.3 414.1 L1287.5 415.5 L1289.2 415.2 L1291.9 413.7 L1292.4 414.4 L1295.5 411.5 L1297.1 413.4 L1300.7 412.0 L1302.8 409.2 L1304.7 410.6 L1305.9 410.6 L1306.0 405.6 L1307.6 409.1 L1310.4 403.1 L1312.6 406.1 L1312.9 403.4 L1314.7 402.3 L1316.5 400.2 L1319.2 401.1 L1322.1 397.5 L1323.7 396.9 L1323.7 396.1 L1325.0 395.3 L1328.3 396.3 L1330.5 392.5 L1330.3 390.4 L1333.1 390.3 L1333.4 389.2 L1337.6 390.4 L1338.9 387.5 L1341.5 387.4 L1341.8 385.4 L1343.9 385.3 L1345.7 384.6 L1347.9 383.2 L1349.1 381.8 L1351.6 384.6 L1352.1 383.4 L1355.4 377.5 L1357.1 377.8 L1357.5 379.6 L1361.5 379.5 L1362.3 378.4 L1365.9 375.6 L1366.6 372.6 L1368.8 373.1 L1370.6 370.5 L1370.1 369.1 L1372.3 370.1 L1374.5 368.7 L1377.8 366.0 L1378.1 367.1 L1378.3 366.5 L1381.6 363.1 L1384.3 363.0 L1385.2 363.0 L1385.9 357.7 L1388.3 359.5 L1388.3 355.3 L1391.9 353.5 L1391.7 356.0 L1395.9 354.9 L1396.6 354.2 L1397.6 349.6 L1400.8 349.2 L1401.9 348.9 L1403.3 346.4 L1404.2 346.2 L1408.0 343.0 L1408.5 342.7 L1409.5 344.8 L1412.0 342.0" fill="none" stroke="#0000e6" stroke-width="4.2" stroke-linejoin="round" />
<path d="M1412.0 342.0 L1414.5 342.0 L1417.4 341.3 L1418.4 340.6 L1421.5 338.3 L1424.4 337.9 L1425.3 334.0 L1429.0 333.9 L1431.4 331.6 L1434.3 328.7 L1435.8 329.2 L1436.0 329.4 L1438.3 326.1 L1441.3 324.6 L1443.0 323.0 L1447.2 321.8 L1447.4 320.6 L1451.8 321.6 L1453.7 322.5 L1455.0 318.5 L1457.0 316.7 L1459.9 318.9 L1462.0 316.7 L1465.5 315.9 L1467.2 313.4 L1467.8 311.4 L1472.3 310.3 L1474.0 308.1 L1476.0 306.5 L1478.8 308.0 L1478.9 305.9 L1481.3 305.9 L1483.8 300.6 L1488.1 301.6 L1487.9 299.6 L1492.5 297.0 L1494.6 296.4 L1496.0 295.7 L1497.2 294.5 L1500.9 294.4 L1503.2 291.0 L1505.7 290.4 L1508.9 288.3 L1510.8 287.0 L1512.5 287.1 L1514.5 287.5 L1517.8 283.0 L1520.3 284.9 L1520.4 283.9 L1524.7 281.2 L1527.2 279.0 L1528.3 278.2 L1531.6 277.3 L1532.3 279.4 L1534.9 275.4 L1537.9 272.6 L1540.4 273.6 L1541.6 272.7 L1544.9 267.8 L1547.3 268.4 L1549.0 267.7 L1551.7 266.7 L1551.8 262.3 L1554.4 261.4 L1556.1 261.3 L1559.0 259.2 L1561.9 256.5 L1563.2 256.5 L1565.8 257.1 L1567.9 251.5 L1570.1 251.8 L1571.8 251.3 L1573.5 251.3 L1576.3 248.0 L1579.1 245.3 L1580.8 248.7 L1582.6 244.6 L1586.8 243.9 L1588.7 244.5 L1591.7 241.3 L1592.6 238.2 L1596.0 237.6 L1597.6 236.4 L1600.7 236.8 L1601.4 237.6 L1603.8 236.6 L1606.9 238.7 L1610.3 236.3 L1612.0 237.6 L1616.0 237.3 L1618.2 237.7 L1618.9 242.8 L1622.1 241.1 L1624.1 244.6 L1624.1 247.2 L1626.9 248.5 L1625.3 252.4 L1625.0 258.1 L1623.4 256.8 L1621.8 258.4 L1619.9 261.2 L1618.0 263.3 L1616.7 266.7 L1613.8 267.0 L1611.0 270.0" fill="none" stroke="#0000ff" stroke-width="7.5" stroke-linejoin="round" />
<path d="M1611.0 270.0 L1607.4 269.8 L1605.7 274.2 L1603.8 274.5 L1600.3 274.7 L1600.1 275.9 L1598.0 278.8 L1593.9 275.7 L1592.7 277.4 L1588.1 281.5 L1588.1 283.2 L1586.1 281.3 L1581.2 282.0 L1581.4 283.1 L1576.9 284.1 L1574.4 285.6 L1573.2 287.6 L1570.9 292.7 L1568.4 293.6 L1567.9 293.8 L1565.3 296.2 L1563.2 295.0 L1560.3 296.5 L1558.4 301.4 L1556.3 298.4 L1554.3 303.4 L1552.1 304.3 L1548.9 302.6 L1548.4 304.0 L1545.2 307.0 L1542.8 306.7 L1540.1 312.5 L1540.0 313.9 L1537.2 315.4 L1536.2 315.2 L1533.1 316.0 L1530.0 316.7 L1529.3 317.2 L1527.4 320.0 L1524.5 322.9 L1522.5 320.9 L1519.1 321.6 L1516.3 327.5 L1515.7 328.9 L1514.1 327.1 L1512.4 331.4 L1508.8 328.7 L1506.2 330.4 L1504.1 331.3 L1502.9 337.0 L1499.3 337.3 L1498.2 337.3 L1496.9 338.1 L1494.5 337.8 L1492.7 339.8 L1487.8 344.5 L1487.6 344.8 L1486.0 345.3 L1482.3 346.9 L1482.9 351.9 L1479.0 351.2 L1477.9 355.3 L1474.8 356.8 L1473.7 357.3 L1471.5 356.9 L1471.9 360.8 L1470.4 364.4 L1467.9 362.5 L1465.7 368.8 L1463.6 366.2 L1460.9 372.5 L1461.4 370.8 L1457.3 374.4 L1455.6 373.2 L1454.7 376.6 L1450.7 375.0 L1448.9 379.9 L1445.7 378.0 L1445.1 383.4 L1441.9 382.5 L1440.4 384.1 L1436.8 384.3 L1434.9 385.3 L1432.4 387.6 L1430.7 391.2 L1428.9 393.1 L1428.1 391.1 L1424.1 394.0 L1422.9 395.2 L1419.8 396.5 L1419.5 397.5 L1415.9 401.2 L1413.9 402.9 L1412.9 399.5 L1410.1 401.6 L1408.9 404.2 L1404.8 408.2 L1404.7 407.9 L1401.9 406.8 L1401.0 409.3 L1397.5 411.6 L1395.2 410.8 L1394.3 414.4 L1390.7 417.6 L1389.9 418.4 L1387.9 418.0 L1383.5 419.4 L1382.8 422.9 L1381.0 423.6 L1378.5 425.2 L1376.3 423.5 L1374.1 426.1 L1370.6 429.2 L1370.6 429.0 L1368.0 432.1 L1365.9 434.6 L1363.8 432.3 L1361.4 435.0 L1358.7 437.9 L1355.9 439.1 L1356.0 437.9 L1353.6 442.3 L1350.1 444.0 L1347.1 442.5 L1347.6 446.2 L1343.0 445.2 L1341.5 448.3 L1340.8 447.6 L1337.5 449.9 L1335.0 453.3 L1331.4 453.9 L1330.9 452.2 L1326.8 455.5 L1326.6 454.7 L1322.3 456.7 L1321.5 456.8 L1318.4 456.6 L1315.4 458.3 L1314.8 458.8 L1310.9 461.5 L1308.7 461.5 L1307.9 462.5 L1305.1 462.9 L1302.7 466.9 L1300.1 465.5 L1296.6 466.9 L1295.5 467.3 L1293.3 470.6 L1290.1 472.6 L1290.4 474.0 L1286.7 475.9 L1285.9 477.7 L1283.7 478.1 L1281.4 479.3 L1277.4 477.6 L1275.7 481.5 L1272.8 481.2 L1270.1 480.9 L1268.3 486.0 L1265.5 483.9 L1264.3 489.1 L1261.5 485.9 L1258.8 488.6 L1256.5 491.4 L1254.4 490.4 L1252.2 492.0 L1250.0 492.8 L1248.1 494.4 L1247.1 496.3 L1243.7 495.8 L1243.3 501.1 L1241.3 501.7 L1237.6 501.1 L1234.7 502.9 L1233.1 506.6 L1230.3 506.7 L1229.6 507.7 L1227.0 506.0 L1223.4 509.6 L1222.5 513.0 L1220.8 510.6 L1216.7 514.2 L1213.9 515.8 L1211.8 515.2 L1211.7 513.7 L1207.2 517.2 L1206.6 515.1 L1203.6 519.8 L1202.1 518.8 L1197.6 520.8 L1196.8 520.8 L1194.6 522.5 L1191.9 523.2 L1189.9 525.6 L1188.3 523.3 L1186.0 525.6 L1182.6 526.8 L1180.0 528.9 L1178.2 528.8 L1175.4 531.8 L1173.4 533.4 L1170.2 534.9 L1170.3 537.0 L1167.0 538.6 L1164.2 536.9 L1162.6 538.5 L1159.3 542.3 L1157.0 541.4 L1154.0 545.0" fill="none" stroke="#0000ff" stroke-width="7.5" stroke-linejoin="round" />
<path d="M1148.0 570.0 L1145.8 573.5 L1146.0 574.4 L1143.8 575.3 L1139.9 575.3 L1138.9 577.0 L1137.8 577.4 L1136.5 578.6 L1135.6 581.8 L1132.6 582.1 L1132.5 581.3 L1128.6 583.0 L1128.8 584.3 L1125.4 586.3 L1124.2 588.4 L1122.0 588.2 L1121.0 591.2 L1118.6 591.9 L1117.8 590.7 L1115.5 592.4 L1115.9 596.0 L1114.3 595.4 L1110.6 596.0 L1110.1 596.2 L1109.4 596.4 L1105.6 598.1 L1103.7 598.6 L1102.3 601.3 L1102.6 603.3 L1100.0 603.5 L1097.1 605.8 L1097.0 604.6 L1095.1 606.4 L1093.5 608.3 L1090.4 608.5 L1090.7 611.7 L1087.1 614.7 L1086.1 612.9 L1083.8 614.3 L1083.8 618.4 L1081.5 617.7 L1079.3 619.9 L1078.4 619.7 L1076.7 623.0 L1077.2 621.0 L1074.1 622.1 L1073.4 627.2 L1070.0 627.4 L1069.0 627.5 L1068.2 628.4 L1066.4 628.9 L1064.0 629.7 L1061.8 629.4 L1059.6 629.9 L1058.3 632.1 L1055.8 635.1 L1053.0 634.0 L1052.3 635.2 L1050.8 634.6 L1049.2 636.8 L1045.0 637.6 L1044.4 640.3 L1043.2 640.1 L1041.2 641.4 L1038.8 641.4 L1037.2 640.2 L1035.3 643.3 L1033.2 645.0 L1032.1 645.3 L1030.0 645.6 L1029.4 648.8 L1026.6 649.4 L1022.6 647.0 L1021.7 648.5 L1019.7 649.2 L1018.4 650.5 L1016.6 649.2 L1015.0 651.4 L1013.3 647.8 L1010.2 648.9 L1009.0 652.9 L1006.5 650.1 L1005.8 649.4 L1004.1 646.3 L1001.1 647.7 L1002.0 643.9 L998.6 641.9 L999.7 639.9 L998.0 638.7 L997.3 637.2 L995.2 638.2 L990.3 637.7 L989.4 636.7 L986.3 638.8 L986.0 639.7 L982.7 637.2 L981.0 639.9 L978.2 640.9 L978.9 639.7 L975.1 642.1 L973.7 645.2 L973.5 644.3 L972.9 647.5 L971.1 645.6 L969.0 649.0" fill="none" stroke="#0000e6" stroke-width="4.5" stroke-linejoin="round" />
<path d="M969.0 649.0 L967.0 647.9 L964.3 652.4 L962.5 651.7 L959.4 651.9 L956.6 651.5 L954.5 654.7 L950.9 654.5 L949.7 655.7 L948.1 660.0 L945.5 657.5 L941.0 660.2 L939.6 664.0 L938.6 664.3 L935.8 665.4 L931.8 666.1 L930.0 666.6 L927.1 668.7 L927.4 666.9 L924.2 667.7 L921.2 669.4 L920.4 673.1 L918.2 671.6 L915.4 675.0 L912.5 677.0 L910.5 675.0 L908.5 676.9 L904.7 678.6 L902.0 678.8 L901.1 677.6 L899.1 679.0 L896.8 681.2 L892.7 685.4 L890.5 682.4 L889.5 683.8 L887.3 685.9 L885.1 687.2 L882.0 686.6 L880.9 688.7 L878.1 692.0 L874.2 689.9 L873.5 689.8 L871.7 692.4 L868.0 692.4 L867.5 692.6 L864.8 696.7 L862.6 697.7 L858.7 697.9 L858.0 696.4 L855.4 700.4 L851.2 702.8 L849.1 699.1 L846.7 702.6 L843.6 703.9 L842.4 703.6 L841.0 705.9 L839.2 708.1 L836.6 709.4 L834.2 708.2 L829.6 708.9 L828.8 712.4 L826.5 711.5 L822.5 712.8 L820.0 711.3 L817.7 715.1 L818.0 715.6 L813.3 717.5 L811.3 718.6 L810.4 720.9 L806.7 718.7 L804.9 719.1 L804.4 722.9 L799.7 723.4 L797.4 727.0 L795.9 723.5 L794.7 726.3 L792.2 729.7 L788.3 729.7 L788.5 729.4 L784.2 732.7 L781.4 734.6 L781.3 736.4 L779.1 735.8 L775.8 736.8 L774.0 740.1 L770.3 739.0 L768.9 739.0 L765.8 742.8 L764.8 743.5 L761.6 743.7 L759.0 743.3 L756.5 746.6 L756.2 747.1 L753.6 745.6 L750.5 746.8 L748.1 748.2 L744.9 752.3 L743.3 749.9 L740.8 751.0 L739.2 752.4 L737.0 754.3 L734.0 755.2 L731.4 753.5 L729.6 757.0 L725.6 757.3 L725.3 758.9 L721.8 759.2 L718.0 759.9 L716.6 761.5 L714.0 760.0 L713.0 761.4 L708.8 763.2 L708.5 765.3 L703.8 763.3 L702.4 764.0 L699.2 765.1 L698.4 769.9 L695.7 769.7 L690.7 768.9 L690.3 768.8 L686.7 773.4 L684.0 773.0" fill="none" stroke="#0000ff" stroke-width="7.5" stroke-linejoin="round" />
<path d="M684.0 773.0 L684.0 830.0" fill="none" stroke="#0000ff" stroke-width="7" stroke-dasharray="7 6" stroke-linejoin="round" />
<path d="M684.0 868.0 L684.0 890.0" fill="none" stroke="#0000ff" stroke-width="7" stroke-linejoin="round" />
<ellipse cx="665" cy="901" rx="17" ry="11" fill="#7a1838" stroke="#0000ff" stroke-width="8.5"/>
<rect x="281" y="127" width="1398" height="1041" fill="none" stroke="#333333" stroke-width="3.6"/>
<line x1="717.9" y1="1168" x2="717.9" y2="1156" stroke="#333333" stroke-width="3"/>
<line x1="717.9" y1="127" x2="717.9" y2="139" stroke="#333333" stroke-width="3"/>
<line x1="1154.8" y1="1168" x2="1154.8" y2="1156" stroke="#333333" stroke-width="3"/>
<line x1="1154.8" y1="127" x2="1154.8" y2="139" stroke="#333333" stroke-width="3"/>
<line x1="1591.6" y1="1168" x2="1591.6" y2="1156" stroke="#333333" stroke-width="3"/>
<line x1="1591.6" y1="127" x2="1591.6" y2="139" stroke="#333333" stroke-width="3"/>
<line x1="281" y1="994.5" x2="293" y2="994.5" stroke="#333333" stroke-width="3"/>
<line x1="1679" y1="994.5" x2="1667" y2="994.5" stroke="#333333" stroke-width="3"/>
<line x1="281" y1="821.0" x2="293" y2="821.0" stroke="#333333" stroke-width="3"/>
<line x1="1679" y1="821.0" x2="1667" y2="821.0" stroke="#333333" stroke-width="3"/>
<line x1="281" y1="647.5" x2="293" y2="647.5" stroke="#333333" stroke-width="3"/>
<line x1="1679" y1="647.5" x2="1667" y2="647.5" stroke="#333333" stroke-width="3"/>
<line x1="281" y1="474.0" x2="293" y2="474.0" stroke="#333333" stroke-width="3"/>
<line x1="1679" y1="474.0" x2="1667" y2="474.0" stroke="#333333" stroke-width="3"/>
<line x1="281" y1="300.5" x2="293" y2="300.5" stroke="#333333" stroke-width="3"/>
<line x1="1679" y1="300.5" x2="1667" y2="300.5" stroke="#333333" stroke-width="3"/>
<rect x="1265" y="902" width="414" height="266" fill="#ffffff" stroke="#333333" stroke-width="3"/>
<line x1="1293" y1="947.5" x2="1421" y2="947.5" stroke="#000" stroke-width="10"/>
<line x1="1293" y1="1034" x2="1421" y2="1034" stroke="#dd0000" stroke-width="10.5" stroke-dasharray="24 27"/>
<line x1="1293" y1="1119.5" x2="1419" y2="1119.5" stroke="#0000aa" stroke-width="9.5" stroke-dasharray="8 5"/>
<text x="300" y="400" font-family="'Liberation Serif', serif" font-weight="bold" font-size="62" stroke="#fff" stroke-width="1.2" transform="matrix(1.1414 0 0 1.1125 1091.15 528.94)">cycle 11</text>
<text x="300" y="400" font-family="'Liberation Serif', serif" font-weight="bold" font-size="62" stroke="#fff" stroke-width="1.2" transform="matrix(1.1188 0 0 1.1214 1098.00 611.25)">cycle 51</text>
<text x="300" y="400" font-family="'Liberation Serif', serif" font-weight="bold" font-size="62" stroke="#fff" stroke-width="1.2" transform="matrix(1.1188 0 0 1.1214 1098.00 696.85)">cycle 91</text>
<rect x="413" y="221" width="447" height="306.5" fill="#ffffff" stroke="#999999" stroke-width="2"/>
<line x1="552.7" y1="527.5" x2="552.7" y2="522.5" stroke="#999999" stroke-width="2"/>
<line x1="552.7" y1="221.0" x2="552.7" y2="226.0" stroke="#999999" stroke-width="2"/>
<line x1="692.4" y1="527.5" x2="692.4" y2="522.5" stroke="#999999" stroke-width="2"/>
<line x1="692.4" y1="221.0" x2="692.4" y2="226.0" stroke="#999999" stroke-width="2"/>
<line x1="832.1" y1="527.5" x2="832.1" y2="522.5" stroke="#999999" stroke-width="2"/>
<line x1="832.1" y1="221.0" x2="832.1" y2="226.0" stroke="#999999" stroke-width="2"/>
<line x1="413.0" y1="476.4" x2="418.0" y2="476.4" stroke="#999999" stroke-width="2"/>
<line x1="860.0" y1="476.4" x2="855.0" y2="476.4" stroke="#999999" stroke-width="2"/>
<line x1="413.0" y1="374.2" x2="418.0" y2="374.2" stroke="#999999" stroke-width="2"/>
<line x1="860.0" y1="374.2" x2="855.0" y2="374.2" stroke="#999999" stroke-width="2"/>
<line x1="413.0" y1="272.1" x2="418.0" y2="272.1" stroke="#999999" stroke-width="2"/>
<line x1="860.0" y1="272.1" x2="855.0" y2="272.1" stroke="#999999" stroke-width="2"/>
<path d="M514.7 476.0 L518.0 481.0 L536.0 474.6 L538.0 470.0 L538.0 434.3 L558.9 428.0" fill="none" stroke="#000" stroke-width="3.3" stroke-linejoin="round" />
<path d="M514.7 475.0 L535.0 463.7 L536.4 462.2 L558.9 452.9 L558.9 414.1" fill="none" stroke="#000" stroke-width="3.3" stroke-linejoin="round" />
<path d="M558.9 414.1 L560.4 413.5 L562.4 412.2 L564.8 411.8 L566.5 410.4 L568.1 409.4 L570.3 409.1 L572.4 408.0 L574.2 406.3 L576.5 406.3 L578.0 404.4 L580.0 404.0 L582.0 403.2 L583.5 402.2 L585.2 400.5 L586.7 400.8 L589.1 398.9 L590.9 398.3 L592.0 397.8 L594.2 396.9 L596.0 394.8 L597.8 394.8 L599.7 393.2 L601.2 392.8 L602.7 392.0 L604.9 389.9 L606.5 389.4 L608.0 388.8 L610.4 387.8 L611.6 386.7 L614.0 386.3 L615.9 384.0 L618.0 383.8 L619.2 382.1 L621.1 381.8 L623.0 381.0 L624.9 379.6 L627.1 377.9 L628.6 378.1 L631.3 376.0 L633.0 376.3 L635.0 375.2 L636.4 374.0 L638.4 373.4 L640.5 372.3 L642.5 370.7 L644.2 369.4 L645.7 369.6 L647.7 368.3 L649.8 366.7 L651.7 366.7 L653.3 365.0 L655.1 363.8 L657.5 363.6 L659.5 362.6 L661.4 361.0 L662.5 360.0 L664.4 360.0 L666.1 358.2 L667.7 356.5 L669.8 356.3 L671.6 355.7 L673.6 354.7 L675.2 352.7 L676.5 352.3 L678.3 350.2 L680.5 349.4 L682.2 348.4 L683.8 347.1 L685.6 346.5 L687.2 345.2 L689.3 344.9 L690.7 343.0 L692.5 342.8 L694.3 341.7 L695.9 340.7 L697.7 339.0 L700.2 337.9 L702.1 336.2 L704.1 334.7 L705.8 334.0 L707.9 333.5 L709.4 332.7 L711.3 331.6 L713.0 330.4 L714.6 330.0 L716.7 328.9 L718.5 326.8 L719.9 327.1 L722.2 326.2 L724.1 324.3 L726.0 323.9 L727.6 322.8 L729.0 321.8 L731.0 320.6 L732.7 319.9 L734.4 318.5 L736.7 317.9 L738.1 317.5 L740.2 316.1 L741.6 315.7 L743.4 314.3 L745.3 314.1 L747.0 312.6 L749.0 310.9 L750.6 311.2 L752.9 309.3 L754.3 309.5 L756.5 308.3 L758.6 306.8 L760.1 306.8 L761.7 305.0 L764.1 305.0 L765.7 303.1 L767.8 302.5 L769.6 301.5 L770.9 301.3 L773.0 300.0 L774.8 299.2 L776.7 298.6 L778.3 297.7 L780.4 297.1 L782.1 296.0 L783.9 295.2 L786.2 294.1 L787.8 293.7 L789.5 291.6 L791.4 290.6 L793.7 290.8 L794.9 289.6 L796.8 289.0 L798.8 287.0 L800.8 286.1 L802.8 286.3 L804.4 284.5 L806.4 283.3 L807.7 282.7 L809.5 282.6 L811.8 281.6 L813.6 279.9 L815.1 279.5 L817.4 278.6 L818.8 277.9 L820.8 276.8 L823.0 275.9 L824.5 274.9 L826.1 273.7 L828.4 272.9 L829.6 272.4 L832.7 270.3 L833.6 273.9 L834.0 276.0" fill="none" stroke="#000" stroke-width="3.3" stroke-linejoin="round" />
<path d="M834.0 276.0 L831.9 277.7 L830.3 278.8 L828.1 279.8 L826.4 281.0 L824.7 282.9 L823.8 284.3 L821.6 285.1 L820.2 286.2 L818.0 288.1 L816.8 288.2 L814.7 289.4 L813.8 290.6 L811.8 293.0 L809.7 293.3 L808.4 295.3 L806.5 295.5 L804.9 296.4 L803.6 298.7 L801.7 298.8 L800.3 300.9 L798.6 301.6 L797.1 303.2 L795.2 304.2 L793.2 305.3 L792.0 306.8 L790.0 308.2 L788.8 308.3 L786.5 309.7 L784.7 311.6 L783.6 312.5 L782.2 313.4 L779.9 314.3 L778.4 316.5 L776.7 316.2 L774.8 317.0 L773.1 317.9 L770.9 319.4 L769.6 320.2 L767.3 321.1 L765.4 321.0 L763.6 322.8 L762.0 322.9 L760.3 324.6 L758.0 325.6 L756.2 325.1 L754.5 327.1 L752.8 327.4 L750.8 327.9 L748.8 328.9 L747.3 330.7 L745.2 330.9 L744.3 332.6 L741.8 333.4 L740.6 335.2 L738.4 336.3 L737.3 336.6 L735.4 338.5 L733.4 339.4 L732.0 339.7 L730.0 341.3 L728.2 343.2 L726.6 343.3 L725.2 344.9 L723.3 345.7 L721.7 347.6 L719.6 348.8 L718.5 349.4 L716.6 350.0 L714.9 351.5 L712.8 352.1 L710.6 353.4 L709.2 353.4 L707.0 355.1 L705.1 355.5 L703.2 356.4 L701.3 357.9 L699.8 359.2 L697.8 359.5 L696.6 361.1 L694.6 362.1 L692.5 362.9 L690.7 363.9 L689.3 364.0 L687.5 365.0 L685.1 365.9 L683.7 367.9 L682.3 367.9 L680.1 369.9 L678.7 370.7 L676.3 370.8 L674.5 371.8 L672.9 373.4 L671.3 373.5 L669.1 374.8 L667.9 375.8 L666.1 377.0 L664.3 377.7 L662.1 378.5 L660.7 379.2 L658.4 380.9 L656.9 381.6 L654.8 381.7 L653.1 383.2 L651.1 383.9 L650.1 385.0 L647.5 386.5 L646.0 386.5 L644.5 388.1 L642.4 389.1 L641.1 389.5 L639.0 390.0 L637.1 391.3 L635.3 392.8 L633.1 393.6 L631.6 393.8 L629.6 395.1 L627.8 395.4 L625.4 396.4 L623.3 398.3 L621.6 398.5 L620.1 398.9 L617.3 400.8 L615.8 401.8 L613.9 402.8 L611.8 402.7 L610.3 404.0 L607.7 404.1 L605.8 405.9 L604.5 405.9 L602.7 407.6 L600.7 408.2 L598.7 409.1 L596.8 410.3 L595.1 410.7 L593.5 412.0 L591.3 411.6 L589.4 413.5 L587.3 413.4 L585.4 414.2 L584.0 415.4 L581.5 416.2 L580.2 416.3 L577.8 417.2 L576.3 418.6 L573.8 419.2 L572.1 420.6 L570.3 421.2 L568.3 421.5 L566.4 423.2 L564.7 424.0 L562.5 424.1 L561.0 425.9 L558.9 426.5" fill="none" stroke="#000" stroke-width="3.3" stroke-linejoin="round" />
<rect x="672.5" y="475" width="187.5" height="52.5" fill="#ffffff" stroke="#999999" stroke-width="2"/>
<line x1="680.5" y1="502.5" x2="721.5" y2="502.5" stroke="#000" stroke-width="3.6"/>
<text x="300" y="400" font-family="'Liberation Serif', serif" font-weight="bold" font-size="37" transform="matrix(1.0798 0 0 0.9857 401.47 119.33)">cycle 11</text>
<text x="300" y="400" font-family="'Liberation Serif', serif" font-size="41" stroke="#000" stroke-width="1.2" transform="matrix(1.0000 0 0 1.0357 80.10 -128.74)">3</text>
<text x="300" y="400" font-family="'Liberation Serif', serif" font-size="41" stroke="#000" stroke-width="1.2" transform="matrix(1.0556 0 0 1.0357 63.38 -26.57)">2</text>
<text x="300" y="400" font-family="'Liberation Serif', serif" font-size="41" stroke="#000" stroke-width="1.2" transform="matrix(1.1875 0 0 1.0357 21.29 75.60)">1</text>
<text x="300" y="400" font-family="'Liberation Serif', serif" font-size="41" stroke="#000" stroke-width="1.2" transform="matrix(1.0000 0 0 1.0071 102.00 173.14)">0</text>
<text x="300" y="400" font-family="'Liberation Serif', serif" font-size="41" stroke="#000" stroke-width="1.2" transform="matrix(1.0390 0 0 1.0071 208.23 173.14)">500</text>
<text x="300" y="400" font-family="'Liberation Serif', serif" font-size="41" stroke="#000" stroke-width="1.2" transform="matrix(1.0321 0 0 1.0071 338.79 173.14)">1000</text>
<text x="300" y="400" font-family="'Liberation Serif', serif" font-size="41" stroke="#000" stroke-width="1.2" transform="matrix(1.0128 0 0 1.0071 485.72 173.14)">1500</text>
<text x="300" y="400" font-family="'Liberation Serif', serif" font-size="50" transform="matrix(1.0600 0 0 1.0600 96.76 -209.78)">×</text>
<text x="300" y="400" font-family="'Liberation Serif', serif" font-size="41" transform="matrix(1.0541 0 0 1.0923 129.62 -229.02)">10</text>
<text x="300" y="400" font-family="'Liberation Serif', serif" font-size="31" transform="matrix(1.1208 0 0 1.0571 151.63 -236.16)">-3</text>
<text x="300" y="400" font-family="'Liberation Serif', serif" font-size="76" stroke="#000" stroke-width="1.8" transform="matrix(0.9867 0 0 0.9759 -136.96 -239.92)">3.5</text>
<text x="300" y="400" font-family="'Liberation Serif', serif" font-size="76" stroke="#000" stroke-width="1.8" transform="matrix(1.0394 0 0 0.9481 -96.34 -55.16)">3</text>
<text x="300" y="400" font-family="'Liberation Serif', serif" font-size="76" stroke="#000" stroke-width="1.8" transform="matrix(0.9934 0 0 0.9685 -139.01 111.46)">2.5</text>
<text x="300" y="400" font-family="'Liberation Serif', serif" font-size="76" stroke="#000" stroke-width="1.8" transform="matrix(1.0727 0 0 1.0038 -106.36 270.69)">2</text>
<text x="300" y="400" font-family="'Liberation Serif', serif" font-size="76" stroke="#000" stroke-width="1.8" transform="matrix(1.0276 0 0 1.0075 -153.94 443.17)">1.5</text>
<text x="300" y="400" font-family="'Liberation Serif', serif" font-size="76" stroke="#000" stroke-width="1.8" transform="matrix(1.1429 0 0 1.0077 -132.71 619.32)">1</text>
<text x="300" y="400" font-family="'Liberation Serif', serif" font-size="76" stroke="#000" stroke-width="1.8" transform="matrix(0.9758 0 0 0.9722 -131.90 805.97)">0.5</text>
<text x="300" y="400" font-family="'Liberation Serif', serif" font-size="76" stroke="#000" stroke-width="1.8" transform="matrix(0.9941 0 0 1.0019 -38.82 863.76)">0</text>
<text x="300" y="400" font-family="'Liberation Serif', serif" font-size="76" stroke="#000" stroke-width="1.8" transform="matrix(1.0092 0 0 0.9630 356.02 878.89)">500</text>
<text x="300" y="400" font-family="'Liberation Serif', serif" font-size="76" stroke="#000" stroke-width="1.8" transform="matrix(1.0549 0 0 0.9722 756.01 876.07)">1000</text>
<text x="300" y="400" font-family="'Liberation Serif', serif" font-size="76" stroke="#000" stroke-width="1.8" transform="matrix(1.0549 0 0 0.9722 1193.01 876.07)">1500</text>
<text x="300" y="400" font-family="'Liberation Serif', serif" font-size="90" transform="matrix(1.0811 0 0 0.9919 -41.29 -282.35)">×</text>
<text x="300" y="400" font-family="'Liberation Serif', serif" font-size="76" stroke="#000" stroke-width="1.2" transform="matrix(1.0912 0 0 0.9717 12.10 -288.12)">10</text>
<text x="300" y="400" font-family="'Liberation Serif', serif" font-size="57" stroke="#000" stroke-width="0.8" transform="matrix(1.0136 0 0 0.9675 115.88 -321.57)">-3</text>
<text x="300" y="400" font-family="'Liberation Serif', serif" font-weight="bold" font-size="83" stroke="#fff" stroke-width="1.4" transform="matrix(1.0252 0 0 1.0000 422.38 972.00)">strain [<tspan font-style="italic" font-weight="normal" stroke="none">μ</tspan>m/m]</text>
<text x="300" y="400" font-family="'Liberation Serif', serif" font-weight="bold" font-size="84" stroke="#fff" stroke-width="1.4" transform="translate(88.00 1099.00) rotate(-90) matrix(1.0315 0 0 1 -312.54 -400.00)">normalized resistivity <tspan font-style="italic" font-weight="normal" stroke="none">ρ</tspan><tspan font-size="62" dy="40" dx="4">n</tspan></text>
</svg>
</body></html>
